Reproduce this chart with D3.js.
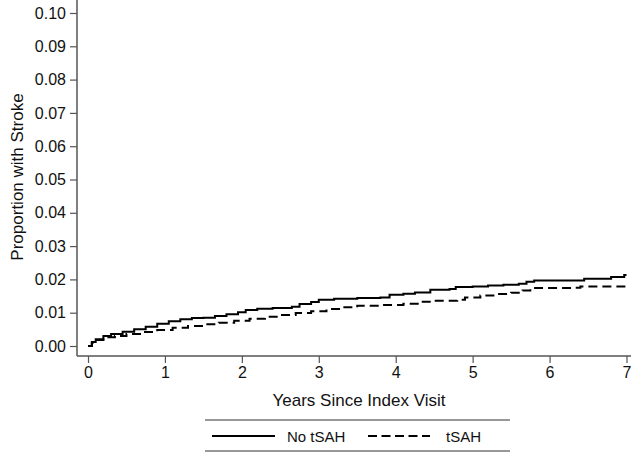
<!DOCTYPE html>
<html><head><meta charset="utf-8">
<script src="https://cdn.jsdelivr.net/npm/d3@7"></script>
<style>body{margin:0;background:#fff}svg{display:block;font-family:"Liberation Sans",Arial,sans-serif}</style>
</head><body>
<script>
const yTicks = [0,0.01,0.02,0.03,0.04,0.05,0.06,0.07,0.08,0.09,0.10];
const xTicks = [0,1,2,3,4,5,6,7];
const seriesNames = ["No tSAH","tSAH"];
const noTsahTime = [0,0.05,0.1,0.2,0.3,0.45,0.6,0.75,0.9,1.05,1.2,1.35,1.5,1.65,1.8,1.95,2.05,2.2,2.4,2.65,2.75,2.9,3.0,3.2,3.5,3.8,3.92,4.1,4.25,4.45,4.7,4.78,5.0,5.2,5.4,5.6,5.7,5.8,6.45,6.8,6.97,7.0];
const noTsahValue = [0,0.0012,0.002,0.003,0.0036,0.0043,0.005,0.0058,0.0067,0.0074,0.008,0.0084,0.0085,0.009,0.0095,0.0101,0.0108,0.0112,0.0114,0.0118,0.0126,0.0132,0.0139,0.0142,0.0144,0.0146,0.0154,0.0157,0.0161,0.0169,0.0171,0.0177,0.0179,0.0182,0.0184,0.0187,0.0193,0.0197,0.0202,0.0207,0.0213,0.0213];
const tsahTime = [0,0.05,0.1,0.2,0.35,0.5,0.7,0.9,1.1,1.3,1.5,1.7,1.9,2.1,2.3,2.5,2.7,2.9,3.1,3.3,3.5,3.8,4.1,4.3,4.5,4.8,4.9,5.1,5.3,5.5,5.65,5.75,6.3,6.4,7.0];
const tsahValue = [0,0.001,0.0018,0.0026,0.003,0.0036,0.0042,0.0048,0.0055,0.006,0.0065,0.007,0.0076,0.0082,0.0088,0.0093,0.0099,0.0104,0.0111,0.0116,0.0121,0.0123,0.0127,0.0133,0.0136,0.0139,0.0146,0.0152,0.0156,0.016,0.0167,0.0174,0.0175,0.0179,0.0179];

const W=639,H=453;
const svg=d3.select("body").append("svg").attr("width",W).attr("height",H);
const x=d3.scaleLinear().domain([0,7]).range([88,626.5]);
const y=d3.scaleLinear().domain([0,0.10]).range([346,13]);
const axisColor="#555";
const ff="Liberation Sans, Arial, sans-serif";

// y axis
const ya=svg.append("g").attr("transform","translate(77,0)")
  .call(d3.axisLeft(y).tickValues(yTicks).tickFormat(d3.format(".2f")).tickSize(7).tickSizeOuter(0));
ya.select(".domain").attr("d","M0,0V356").attr("stroke",axisColor).attr("stroke-width",1.5);
ya.selectAll(".tick line").attr("stroke",axisColor).attr("stroke-width",1.2);
ya.selectAll(".tick text").attr("font-size",16).attr("fill","#111").attr("x",-11).attr("font-family",ff);

// x axis
const xa=svg.append("g").attr("transform","translate(0,356)")
  .call(d3.axisBottom(x).tickValues(xTicks).tickFormat(d3.format("d")).tickSize(7).tickSizeOuter(0));
xa.select(".domain").attr("d","M77,0H631").attr("stroke",axisColor).attr("stroke-width",1.5);
xa.selectAll(".tick line").attr("stroke",axisColor).attr("stroke-width",1.2);
xa.selectAll(".tick text").attr("font-size",16).attr("fill","#111").attr("y",11).attr("font-family",ff);

// titles
svg.append("text").attr("x",359).attr("y",406).attr("text-anchor","middle").attr("font-size",17).attr("fill","#111").text("Years Since Index Visit");
svg.append("text").attr("transform","translate(23,177) rotate(-90)").attr("text-anchor","middle").attr("font-size",17).attr("fill","#111").text("Proportion with Stroke");

// lines
const line=d3.line().x(d=>x(d[0])).y(d=>y(d[1])).curve(d3.curveStepAfter);
const s1=noTsahTime.map((t,i)=>[t,noTsahValue[i]]);
const s2=tsahTime.map((t,i)=>[t,tsahValue[i]]);
svg.append("path").attr("d",line(s2)).attr("fill","none").attr("stroke","#000").attr("stroke-width",2).attr("stroke-dasharray","9,5");
svg.append("path").attr("d",line(s1)).attr("fill","none").attr("stroke","#000").attr("stroke-width",2);

// legend
svg.append("line").attr("x1",205).attr("x2",510).attr("y1",420).attr("y2",420).attr("stroke","#333").attr("stroke-width",1.2);
svg.append("line").attr("x1",205).attr("x2",510).attr("y1",451).attr("y2",451).attr("stroke","#333").attr("stroke-width",1.2);
svg.append("line").attr("x1",212).attr("x2",275).attr("y1",436).attr("y2",436).attr("stroke","#000").attr("stroke-width",2);
svg.append("text").attr("x",287).attr("y",442).attr("font-size",15).attr("fill","#111").text(seriesNames[0]);
svg.append("line").attr("x1",368).attr("x2",430).attr("y1",436).attr("y2",436).attr("stroke","#000").attr("stroke-width",2).attr("stroke-dasharray","9,4.5");
svg.append("text").attr("x",446).attr("y",442).attr("font-size",15).attr("fill","#111").text(seriesNames[1]);
</script>
</body></html>
